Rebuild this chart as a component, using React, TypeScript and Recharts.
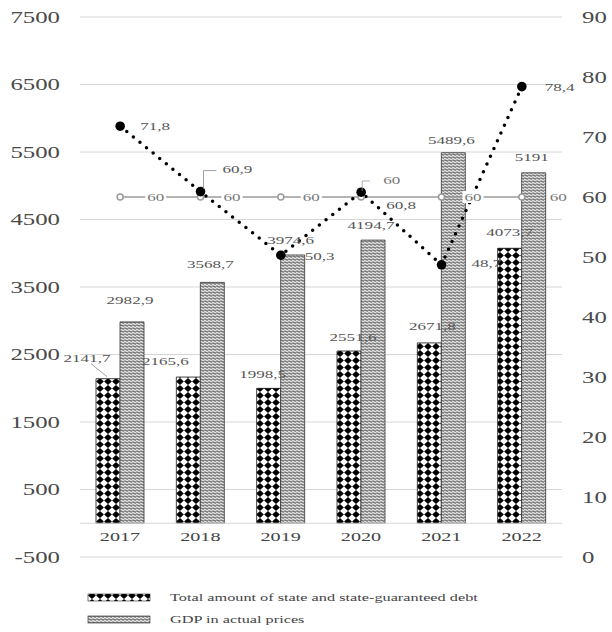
import React from 'react';
import {
  ComposedChart,
  Bar,
  Line,
  XAxis,
  YAxis,
  CartesianGrid,
  LabelList,
  Legend,
  ReferenceLine,
} from 'recharts';

// Years shown on the category axis
const years = ['2017', '2018', '2019', '2020', '2021', '2022'];
// Total amount of state and state-guaranteed debt
const debtValues = [2141.7, 2165.6, 1998.5, 2551.6, 2671.8, 4073.7];
// GDP in actual prices
const gdpValues = [2982.9, 3568.7, 3974.6, 4194.7, 5489.6, 5191];
// Debt as a share of GDP, %
const debtToGdp = [71.8, 60.9, 50.3, 60.8, 48.7, 78.4];
// 60 % debt ceiling
const debtLimit = [60, 60, 60, 60, 60, 60];

const leftTicks = [-500, 500, 1500, 2500, 3500, 4500, 5500, 6500, 7500];
const rightTicks = [0, 10, 20, 30, 40, 50, 60, 70, 80, 90];

const DEBT_NAME = 'Total amount of state and state-guaranteed debt';
const GDP_NAME = 'GDP in actual prices';
const legendOrder = [DEBT_NAME, GDP_NAME];

const data = years.map((year, i) => ({
  year,
  debt: debtValues[i],
  gdp: gdpValues[i],
  ratio: debtToGdp[i],
  limit: debtLimit[i],
}));

const FONT = '"Liberation Serif", "Times New Roman", serif';
const SX = 1.55;

const fmt = (v: number | string) => String(v).replace('.', ',');

function SText({
  x,
  y,
  anchor = 'middle',
  size = 11,
  fill = '#555',
  children,
}: {
  x: number;
  y: number;
  anchor?: 'start' | 'middle' | 'end';
  size?: number;
  fill?: string;
  children: React.ReactNode;
}) {
  return (
    <text
      transform={`translate(${x} ${y}) scale(${SX} 1)`}
      x={0}
      y={0}
      textAnchor={anchor}
      fontSize={size}
      fontFamily={FONT}
      fill={fill}
    >
      {children}
    </text>
  );
}

const LeftTick = (props: any) => (
  <SText x={props.x} y={props.y + 5.5} anchor="end" size={16} fill="#4a4a4a">
    {props.payload.value}
  </SText>
);

const RightTick = (props: any) => (
  <SText x={props.x} y={props.y + 5.5} anchor="start" size={16} fill="#4a4a4a">
    {props.payload.value}
  </SText>
);

// label nudges (dx from bar centre, dy of baseline from bar top)
const debtNudge: [number, number][] = [
  [-21, -17],
  [-23, -12],
  [-6, -10],
  [4, -10],
  [3, -13],
  [0, -12],
];
const gdpNudge = [-18, -14, -11, -11, -9, -12];

const DebtLabel = (p: any) => {
  const i = p.index;
  const cx = p.x + p.width / 2;
  const [dx, dy] = debtNudge[i];
  return (
    <g>
      {i === 0 && (
        <path
          d={`M${cx - 17} ${p.y - 15} L${cx - 1} ${p.y - 2}`}
          stroke="#888"
          strokeWidth={0.8}
          fill="none"
        />
      )}
      <SText x={cx + dx} y={p.y + dy} size={11} fill="#555">
        {fmt(p.value)}
      </SText>
    </g>
  );
};

const GdpLabel = (p: any) => {
  const cx = p.x + p.width / 2;
  return (
    <SText x={cx - 2} y={p.y + gdpNudge[p.index]} size={11} fill="#555">
      {fmt(p.value)}
    </SText>
  );
};

const YearLabel = (p: any) => (
  <SText x={p.x + p.width} y={p.y + p.height + 18} size={13} fill="#444">
    {p.value}
  </SText>
);

const ratioNudge: [number, number][] = [
  [20, 4],
  [22, -19],
  [24, 5],
  [25, 17],
  [30, 2],
  [23, 4],
];

const RatioLabel = (p: any) => {
  const i = p.index;
  const [dx, dy] = ratioNudge[i];
  return (
    <g>
      {i === 1 && (
        <path
          d={`M${p.x + 3} ${p.y - 3} V${p.y - 21} H${p.x + 16}`}
          stroke="#888"
          strokeWidth={0.8}
          fill="none"
        />
      )}
      <SText x={p.x + dx} y={p.y + dy} anchor="start" size={11} fill="#555">
        {fmt(p.value)}
      </SText>
    </g>
  );
};

const limitNudge = [27, 23, 22, 0, 23, 28];

const LimitLabel = (p: any) => {
  const i = p.index;
  if (i === 3) {
    return (
      <g>
        <path
          d={`M${p.x + 1} ${p.y - 6} V${p.y - 16} H${p.x + 9}`}
          stroke="#999"
          strokeWidth={0.8}
          fill="none"
        />
        <SText x={p.x + 22} y={p.y - 13} anchor="start" size={11} fill="#777">
          {fmt(p.value)}
        </SText>
      </g>
    );
  }
  const dx = limitNudge[i];
  return (
    <g>
      <rect x={p.x + dx - 2} y={p.y - 6} width={21} height={12} fill="#fff" />
      <SText x={p.x + dx} y={p.y + 4} anchor="start" size={11} fill="#777">
        {fmt(p.value)}
      </SText>
    </g>
  );
};

const RatioDot = (p: any) => (
  <circle key={`rd-${p.index}`} cx={p.cx} cy={p.cy} r={4.8} fill="#000" />
);

const LimitDot = (p: any) => (
  <circle
    key={`ld-${p.index}`}
    cx={p.cx}
    cy={p.cy}
    r={3}
    fill="#fff"
    stroke="#9b9b9b"
    strokeWidth={1.5}
  />
);

const LegendBox = (props: any) => {
  const items = (props.payload || [])
    .filter((e: any) => legendOrder.includes(e.value))
    .sort((a: any, b: any) => legendOrder.indexOf(a.value) - legendOrder.indexOf(b.value));
  return (
    <svg width={612} height={47} style={{ display: 'block' }}>
      {items.map((e: any, i: number) => (
        <g key={e.value}>
          <rect
            x={88}
            y={9 + i * 22}
            width={62}
            height={7}
            fill={e.color}
            stroke="#222"
            strokeWidth={0.6}
          />
          <SText x={170} y={16 + i * 22} anchor="start" size={10.5} fill="#444">
            {e.value}
          </SText>
        </g>
      ))}
    </svg>
  );
};

export default function App() {
  return (
    <div style={{ position: 'absolute', left: 0, top: 0, background: '#fff' }}>
      <ComposedChart
        width={612}
        height={632}
        data={data}
        margin={{ top: 17, right: 0, bottom: 75, left: 0 }}
        barGap={0}
      >
        <defs>
          <pattern id="debtFill" patternUnits="userSpaceOnUse" width="8" height="7">
            <rect width="8" height="7" fill="#fff" />
            <path d="M4 0.1 L7.9 3.5 L4 6.9 L0.1 3.5 Z" fill="#000" />
          </pattern>
          <pattern id="gdpFill" patternUnits="userSpaceOnUse" width="4" height="3">
            <rect width="4" height="3" fill="#dedede" />
            <path
              d="M0 1.5 C0.7 0.6 1.3 0.6 2 1.5 S3.3 2.4 4 1.5"
              stroke="#2a2a2a"
              strokeWidth={1}
              fill="none"
            />
          </pattern>
        </defs>
        <CartesianGrid vertical={false} stroke="#d6d6d6" />
        <XAxis dataKey="year" hide />
        <YAxis
          domain={[-500, 7500]}
          ticks={leftTicks}
          width={80}
          axisLine={false}
          tickLine={false}
          tickSize={0}
          tickMargin={20}
          tick={LeftTick}
          interval={0}
        />
        <YAxis
          yAxisId="right"
          orientation="right"
          domain={[0, 90]}
          ticks={rightTicks}
          width={50}
          axisLine={false}
          tickLine={false}
          tickSize={0}
          tickMargin={20}
          tick={RightTick}
          interval={0}
        />
        <ReferenceLine y={0} stroke="#d6d6d6" />
        <Bar
          dataKey="debt"
          name={DEBT_NAME}
          fill="url(#debtFill)"
          stroke="#111"
          strokeWidth={0.8}
          barSize={24}
          isAnimationActive={false}
        >
          <LabelList dataKey="debt" content={DebtLabel} />
          <LabelList dataKey="year" content={YearLabel} />
        </Bar>
        <Bar
          dataKey="gdp"
          name={GDP_NAME}
          fill="url(#gdpFill)"
          stroke="#333"
          strokeWidth={0.8}
          barSize={24}
          isAnimationActive={false}
        >
          <LabelList dataKey="gdp" content={GdpLabel} />
        </Bar>
        <Line
          yAxisId="right"
          dataKey="limit"
          stroke="#9b9b9b"
          strokeWidth={1.5}
          dot={LimitDot}
          activeDot={false}
          legendType="none"
          isAnimationActive={false}
        >
          <LabelList dataKey="limit" content={LimitLabel} />
        </Line>
        <Line
          yAxisId="right"
          dataKey="ratio"
          stroke="#000"
          strokeWidth={3.5}
          strokeDasharray="0 8.5"
          strokeLinecap="round"
          dot={RatioDot}
          activeDot={false}
          legendType="none"
          isAnimationActive={false}
        >
          <LabelList dataKey="ratio" content={RatioLabel} />
        </Line>
        <Legend
          layout="horizontal"
          verticalAlign="middle"
          align="center"
          content={LegendBox}
          wrapperStyle={{ left: 0, top: 585, width: 612, height: 47 }}
        />
      </ComposedChart>
    </div>
  );
}
